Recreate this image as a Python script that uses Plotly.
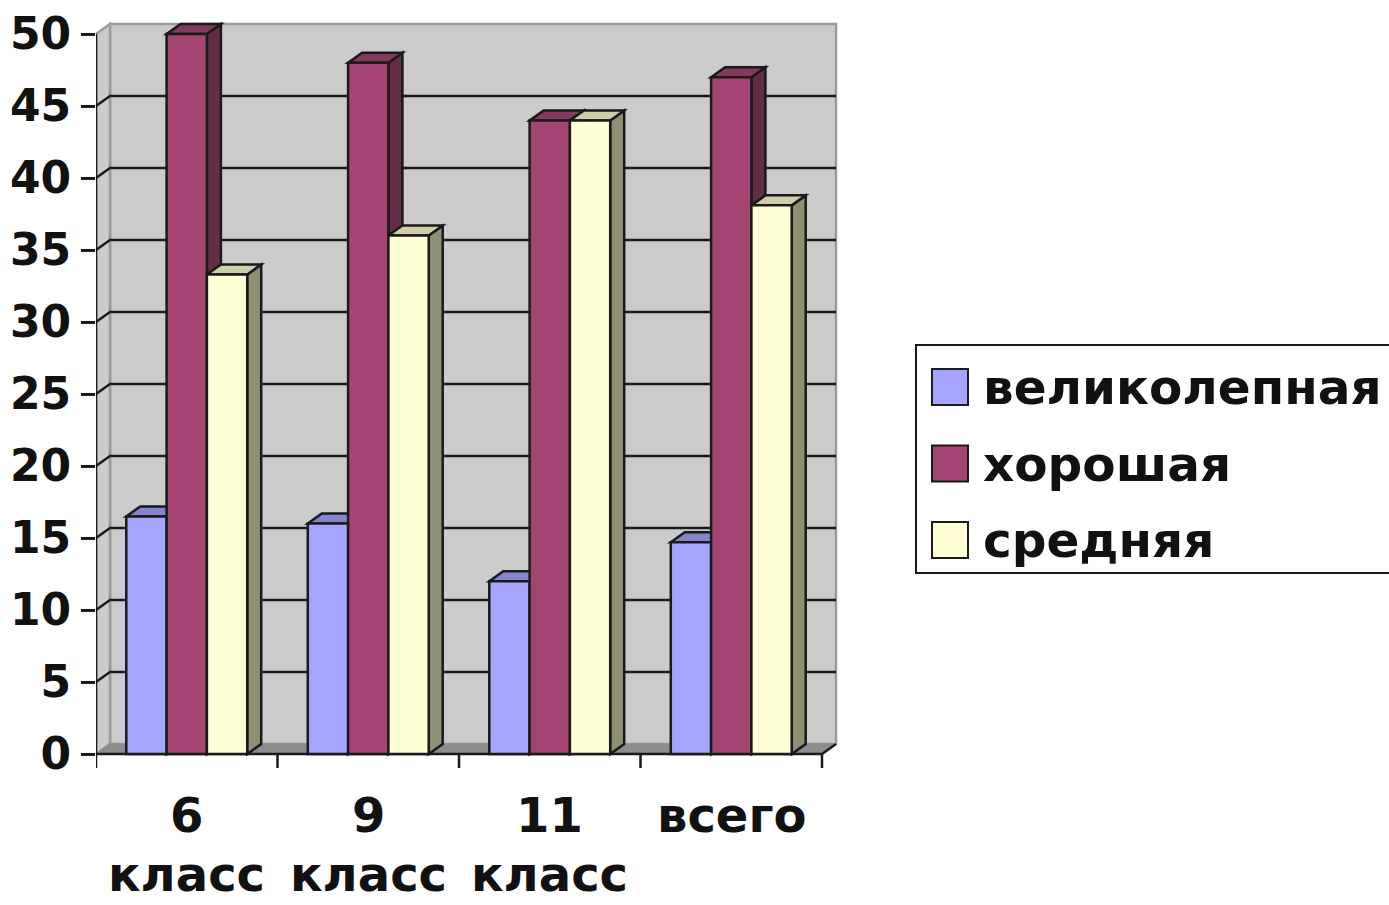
import plotly.graph_objects as go

# --- data -------------------------------------------------------------
categories = ["6 класс", "9 класс", "11 класс", "всего"]
series_names = ["великолепная", "хорошая", "средняя"]
velikolepnaya = [16.5, 16.0, 12.0, 14.7]
khoroshaya = [50.0, 48.0, 44.0, 47.0]
srednyaya = [33.3, 36.0, 44.0, 38.1]
y_ticks = list(range(0, 55, 5))

series_values = [velikolepnaya, khoroshaya, srednyaya]

# --- styling ----------------------------------------------------------
FRONT = ["#A5A5FF", "#A44472", "#FFFFD6"]
TOP = ["#8585CD", "#843A5E", "#CDCDA9"]
SIDE = ["#6B6BB0", "#612E45", "#8F8F73"]
EDGE = "#1A1A1A"
WALL = "#CBCBCB"
WALL_EDGE = "#9A9A9A"
FLOOR = "#8D8D8D"
FONT = "DejaVu Sans"

W, H = 1389, 905
PLOT_L, PLOT_R, PLOT_T, PLOT_B = 96, 840, 14, 780
PX_PER_CAT = 181.5          # horizontal pixels per category
PX_PER_UNIT = 14.4          # vertical pixels per value unit
ZERO_PX = 754               # pixel row of value 0 on the front plane

x_lo = -0.5
x_hi = x_lo + (PLOT_R - PLOT_L) / PX_PER_CAT
y_lo = -(PLOT_B - ZERO_PX) / PX_PER_UNIT
y_hi = (ZERO_PX - PLOT_T) / PX_PER_UNIT

BW = 40.3 / PX_PER_CAT      # bar width in category units
DX = 14 / PX_PER_CAT        # depth offset (x)
DY = 10 / PX_PER_UNIT       # depth offset (y)
n_cat = len(categories)
x_left, x_right = -0.5, n_cat - 0.5
y_top = y_ticks[-1]


def poly(pts):
    return "M " + " L ".join(f"{x},{y}" for x, y in pts) + " Z"


shapes = []
# walls and floor
shapes.append(dict(type="path", layer="below",
                   path=poly([(x_left + DX, DY), (x_left + DX, y_top + DY),
                              (x_right + DX, y_top + DY), (x_right + DX, DY)]),
                   fillcolor=WALL, line=dict(color=WALL_EDGE, width=2.5)))
shapes.append(dict(type="path", layer="below",
                   path=poly([(x_left, 0), (x_left, y_top),
                              (x_left + DX, y_top + DY), (x_left + DX, DY)]),
                   fillcolor=WALL, line=dict(color=WALL_EDGE, width=2.5)))
shapes.append(dict(type="path", layer="below",
                   path=poly([(x_left, 0), (x_right, 0),
                              (x_right + DX, DY), (x_left + DX, DY)]),
                   fillcolor=FLOOR, line=dict(color=FLOOR, width=1)))

# gridlines on the back wall with connectors across the side wall
for v in y_ticks[1:-1]:
    shapes.append(dict(type="path", layer="below",
                       path=f"M {x_left},{v} L {x_left + DX},{v + DY} L {x_right + DX},{v + DY}",
                       line=dict(color=EDGE, width=2.5)))

# front axis lines
shapes.append(dict(type="line", layer="below", x0=x_left, x1=x_left, y0=0, y1=y_top,
                   line=dict(color=EDGE, width=2.5)))
shapes.append(dict(type="path", layer="below",
                   path=f"M {x_left},0 L {x_right},0 L {x_right + DX},{DY}",
                   line=dict(color=EDGE, width=2.5)))
# category separator ticks
tick_down = 14 / PX_PER_UNIT
for k in range(n_cat + 1):
    b = x_left + k
    shapes.append(dict(type="line", layer="below", x0=b, x1=b, y0=0, y1=-tick_down,
                       line=dict(color=EDGE, width=2.5)))

# side and top faces of each bar (front faces are the bar traces)
for c in range(n_cat):
    for i, vals in enumerate(series_values):
        v = vals[c]
        L = c + (i - 1.5) * BW
        R = L + BW
        shapes.append(dict(type="path", layer="below",
                           path=poly([(R, 0), (R, v), (R + DX, v + DY), (R + DX, DY)]),
                           fillcolor=SIDE[i], line=dict(color=EDGE, width=2.5)))
        shapes.append(dict(type="path", layer="below",
                           path=poly([(L, v), (R, v), (R + DX, v + DY), (L + DX, v + DY)]),
                           fillcolor=TOP[i], line=dict(color=EDGE, width=2.5)))

fig = go.Figure()
for i, (name, vals) in enumerate(zip(series_names, series_values)):
    fig.add_trace(go.Bar(
        x=[c + (i - 1) * BW for c in range(n_cat)],
        y=vals, width=BW, name=name, showlegend=False,
        marker=dict(color=FRONT[i], line=dict(color=EDGE, width=2.5)),
    ))

pw = PLOT_R - PLOT_L
ph = PLOT_B - PLOT_T


def px_x(p):
    return (p - PLOT_L) / pw


def px_y(p):
    return (PLOT_B - p) / ph


annotations = []

# two-line category labels under the axis
for c, lbl in enumerate(categories):
    for j, part in enumerate(lbl.split(" ")):
        annotations.append(dict(xref="x", yref="paper", x=c, y=px_y(815 + j * 59),
                                xanchor="center", yanchor="middle", showarrow=False,
                                text=part, borderpad=0,
                                font=dict(family=FONT, size=48, color="#111111",
                                          weight="bold")))

# legend box drawn in paper coordinates
shapes.append(dict(type="rect", xref="paper", yref="paper",
                   x0=px_x(916), x1=px_x(1400), y0=px_y(573), y1=px_y(345),
                   fillcolor="white", line=dict(color=EDGE, width=2)))
for i, name in enumerate(series_names):
    top = 369 + i * 76.5
    shapes.append(dict(type="rect", xref="paper", yref="paper",
                       x0=px_x(932), x1=px_x(968), y0=px_y(top + 36), y1=px_y(top),
                       fillcolor=FRONT[i], line=dict(color=EDGE, width=2)))
    annotations.append(dict(xref="paper", yref="paper", x=px_x(981), y=px_y(top + 18),
                            xanchor="left", yanchor="middle", showarrow=False,
                            text=name,
                            font=dict(family=FONT, size=48.5, color="#111111",
                                      weight="bold")))

fig.update_layout(
    width=W, height=H,
    margin=dict(l=PLOT_L, r=W - PLOT_R, t=PLOT_T, b=H - PLOT_B, autoexpand=False),
    paper_bgcolor="white", plot_bgcolor="rgba(0,0,0,0)",
    barmode="overlay", showlegend=False,
    shapes=shapes, annotations=annotations,
    font=dict(family=FONT, color="#111111", weight="bold"),
    xaxis=dict(range=[x_lo, x_hi], showgrid=False, zeroline=False, showline=False,
               showticklabels=False, ticks=""),
    yaxis=dict(range=[y_lo, y_hi], showgrid=False, zeroline=False, showline=False,
               tickmode="array", tickvals=y_ticks, ticks="outside", ticklen=14,
               tickwidth=2.5, tickcolor=EDGE,
               tickfont=dict(size=44, family=FONT, weight="bold"),
               ticklabelstandoff=1),
)

fig.write_html("out.html")
